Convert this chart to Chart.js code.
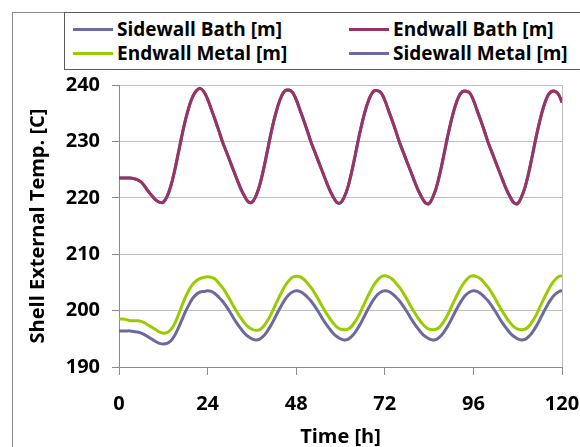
<!DOCTYPE html>
<html lang="en">
<head>
<meta charset="UTF-8">
<title>Shell External Temperature</title>
<style>
  body { margin: 0; background: #fff; font-family: "Open Sans", Lato, sans-serif; }
  #wrap { position: relative; width: 580px; height: 447px; overflow: hidden; }
  #frame { position: absolute; left: 12px; top: 12px; width: 620px; height: 500px; border: 1px solid #8c8c8c; }
  #chart { position: absolute; left: 0; top: 0; }
  #legend { position: absolute; left: 64px; top: 12px; width: 560px; height: 56px; border: 1px solid #5a5a5a; background: #fff; }
  .item { position: absolute; font-weight: bold; font-size: 19px; line-height: 20px; white-space: nowrap; color: #000; }
  .swatch { position: absolute; top: 9px; width: 40px; height: 3px; }
  .item span.txt { position: absolute; left: 44px; top: 0; }
</style>
</head>
<body>
<div id="wrap">
  <div id="frame"></div>
  <canvas id="chart" width="580" height="447"></canvas>
  <div id="legend"></div>
</div>

<script src="https://cdn.jsdelivr.net/npm/chart.js"></script>
<script>
// time axis, one sample per hour
const hours = Array.from({ length: 121 }, (_, i) => i);
const xTicks = [0, 24, 48, 72, 96, 120];
const yTicks = [190, 200, 210, 220, 230, 240];

// bath temperature (sidewall and endwall read the same)
const bathTemp = [
  223.5, 223.5, 223.5, 223.5, 223.4, 223.2, 222.8, 222.0, 221.1, 220.3, 219.6, 219.2,
  219.2, 220.2, 222.0, 224.6, 227.7, 230.9, 233.8, 236.2, 238.0, 239.0,
  239.4, 238.8, 237.5, 235.7, 233.9, 232.0, 230.0, 228.3, 226.6, 224.9, 223.2, 221.6,
  220.3, 219.3, 219.2, 220.2, 222.0, 224.6, 227.7, 230.9, 233.8, 236.2, 238.0, 239.0,
  239.1, 238.7, 237.4, 235.6, 233.8, 231.9, 229.9, 228.2, 226.5, 224.8, 223.1, 221.5,
  220.2, 219.2, 219.1, 220.1, 221.9, 224.5, 227.6, 230.8, 233.7, 236.1, 237.9, 238.9,
  239.0, 238.6, 237.3, 235.5, 233.7, 231.8, 229.8, 228.1, 226.4, 224.7, 223.0, 221.4,
  220.1, 219.1, 219.0, 220.1, 221.9, 224.5, 227.6, 230.8, 233.7, 236.1, 237.9, 238.8,
  238.9, 238.6, 237.3, 235.5, 233.7, 231.8, 229.8, 228.1, 226.4, 224.7, 223.0, 221.4,
  220.1, 219.1, 219.0, 220.1, 221.9, 224.5, 227.6, 230.8, 233.7, 236.1, 237.9, 238.8,
  238.9, 238.4, 236.9
];

const endwallMetal = [
  198.5, 198.5, 198.4, 198.2, 198.2, 198.2, 198.1, 197.8, 197.4, 197.0, 196.6, 196.2,
  196.0, 196.1, 196.6, 197.6, 199.1, 200.8, 202.4, 203.7, 204.7, 205.3, 205.7, 205.9,
  206.0, 205.9, 205.6, 204.9, 204.1, 203.1, 202.0, 200.8, 199.7, 198.7, 197.8, 197.1,
  196.7, 196.5, 196.6, 197.1, 198.0, 199.1, 200.5, 201.9, 203.2, 204.4, 205.3, 205.9,
  206.1, 206.0, 205.6, 204.9, 204.1, 203.1, 202.0, 200.8, 199.7, 198.7, 197.8, 197.1,
  196.7, 196.6, 196.7, 197.2, 198.1, 199.2, 200.6, 202.0, 203.3, 204.5, 205.4, 206.0,
  206.2, 206.0, 205.6, 204.9, 204.1, 203.1, 202.0, 200.8, 199.7, 198.7, 197.8, 197.1,
  196.7, 196.6, 196.7, 197.2, 198.1, 199.2, 200.6, 202.0, 203.3, 204.5, 205.4, 206.0,
  206.2, 206.0, 205.6, 204.9, 204.1, 203.1, 202.0, 200.8, 199.7, 198.7, 197.8, 197.1,
  196.7, 196.6, 196.7, 197.2, 198.1, 199.2, 200.6, 202.0, 203.3, 204.5, 205.4, 206.0,
  206.2
];

const sidewallMetal = [
  196.4, 196.4, 196.4, 196.4, 196.3, 196.2, 196.0, 195.7, 195.3, 194.9, 194.5, 194.2,
  194.1, 194.2, 194.6, 195.5, 196.8, 198.3, 199.8, 201.1, 202.2, 202.9, 203.3, 203.4,
  203.5, 203.4, 203.0, 202.4, 201.7, 200.8, 199.8, 198.7, 197.7, 196.8, 196.0, 195.4,
  195.0, 194.8, 194.9, 195.4, 196.2, 197.2, 198.4, 199.7, 200.9, 202.0, 202.8, 203.3,
  203.5, 203.4, 203.0, 202.4, 201.7, 200.8, 199.8, 198.7, 197.7, 196.8, 196.0, 195.4,
  195.0, 194.8, 194.9, 195.4, 196.2, 197.2, 198.4, 199.7, 200.9, 202.0, 202.8, 203.3,
  203.5, 203.4, 203.0, 202.4, 201.7, 200.8, 199.8, 198.7, 197.7, 196.8, 196.0, 195.4,
  195.0, 194.8, 194.9, 195.4, 196.2, 197.2, 198.4, 199.7, 200.9, 202.0, 202.8, 203.3,
  203.5, 203.4, 203.0, 202.4, 201.7, 200.8, 199.8, 198.7, 197.7, 196.8, 196.0, 195.4,
  195.0, 194.8, 194.9, 195.4, 196.2, 197.2, 198.4, 199.7, 200.9, 202.0, 202.8, 203.3,
  203.6
];

const seriesNames = ['Sidewall Bath [m]', 'Endwall Bath [m]', 'Endwall Metal [m]', 'Sidewall Metal [m]'];
const seriesColors = ['#6a6aa0', '#993366', '#99cc00', '#6a6aa0'];
const seriesValues = [bathTemp, bathTemp, endwallMetal, sidewallMetal];
// endwall bath sits on top of the sidewall bath line
const seriesOrder = [2, 0, 1, 1];

const font = { family: '"Open Sans", Lato, sans-serif', size: 20, weight: 'bold' };
const titleFont = { family: '"Open Sans", Lato, sans-serif', size: 20, weight: 'bold', lineHeight: 1 };

// gray line closing the plot on the right
const plotFrame = {
  id: 'plotFrame',
  beforeDatasetsDraw(chart) {
    const { ctx, chartArea: a } = chart;
    ctx.save();
    ctx.strokeStyle = '#bdbdbd';
    ctx.lineWidth = 1;
    ctx.beginPath();
    ctx.moveTo(Math.round(a.right) + 0.5, a.top);
    ctx.lineTo(Math.round(a.right) + 0.5, a.bottom);
    ctx.stroke();
    ctx.restore();
  }
};

const chart = new Chart(document.getElementById('chart'), {
  type: 'line',
  data: {
    datasets: seriesNames.map((name, i) => ({
      label: name,
      data: seriesValues[i].map((v, k) => ({ x: hours[k], y: v })),
      borderColor: seriesColors[i],
      borderWidth: 3,
      pointRadius: 0,
      tension: 0.4,
      fill: false,
      order: seriesOrder[i]
    }))
  },
  options: {
    responsive: false,
    animation: false,
    layout: { padding: { left: 20, top: 85, right: 18, bottom: 0 } },
    plugins: { legend: { display: false }, tooltip: { enabled: false } },
    scales: {
      x: {
        type: 'linear',
        min: 0,
        max: 120,
        afterBuildTicks: s => { s.ticks = xTicks.map(v => ({ value: v })); },
        // fixed band under the plot; let the last label run to the edge
        afterFit: s => { s.height = 80; s.paddingLeft = 0; s.paddingRight = 0; },
        grid: { drawOnChartArea: false, tickLength: 8, color: '#8a8a8a' },
        border: { color: '#8a8a8a' },
        ticks: { font, color: '#000', padding: 17, maxRotation: 0 },
        title: { display: true, text: 'Time [h]', font: titleFont, color: '#000', padding: { top: 0, bottom: 0 } }
      },
      y: {
        min: 190,
        max: 240,
        afterBuildTicks: s => { s.ticks = yTicks.map(v => ({ value: v })); },
        afterFit: s => { s.width = 99; s.paddingTop = 0; s.paddingBottom = 0; },
        grid: { color: '#bfbfbf', tickColor: '#8a8a8a', tickLength: 7 },
        border: { color: '#8a8a8a' },
        ticks: { font, color: '#000', padding: 12 },
        title: { display: true, text: 'Shell External Temp. [C]', font: titleFont, color: '#000', padding: { top: 8, bottom: 0 } }
      }
    }
  },
  plugins: [plotFrame]
});

// two-column legend built from the chart's datasets
const legendSpots = [[8, 6], [284, 6], [8, 30], [284, 30]];
const legendBox = document.getElementById('legend');
chart.data.datasets.forEach((ds, i) => {
  const item = document.createElement('div');
  item.className = 'item';
  item.style.left = legendSpots[i][0] + 'px';
  item.style.top = legendSpots[i][1] + 'px';
  const sw = document.createElement('div');
  sw.className = 'swatch';
  sw.style.background = ds.borderColor;
  const txt = document.createElement('span');
  txt.className = 'txt';
  txt.textContent = ds.label;
  item.appendChild(sw);
  item.appendChild(txt);
  legendBox.appendChild(item);
});
</script>
</body>
</html>
